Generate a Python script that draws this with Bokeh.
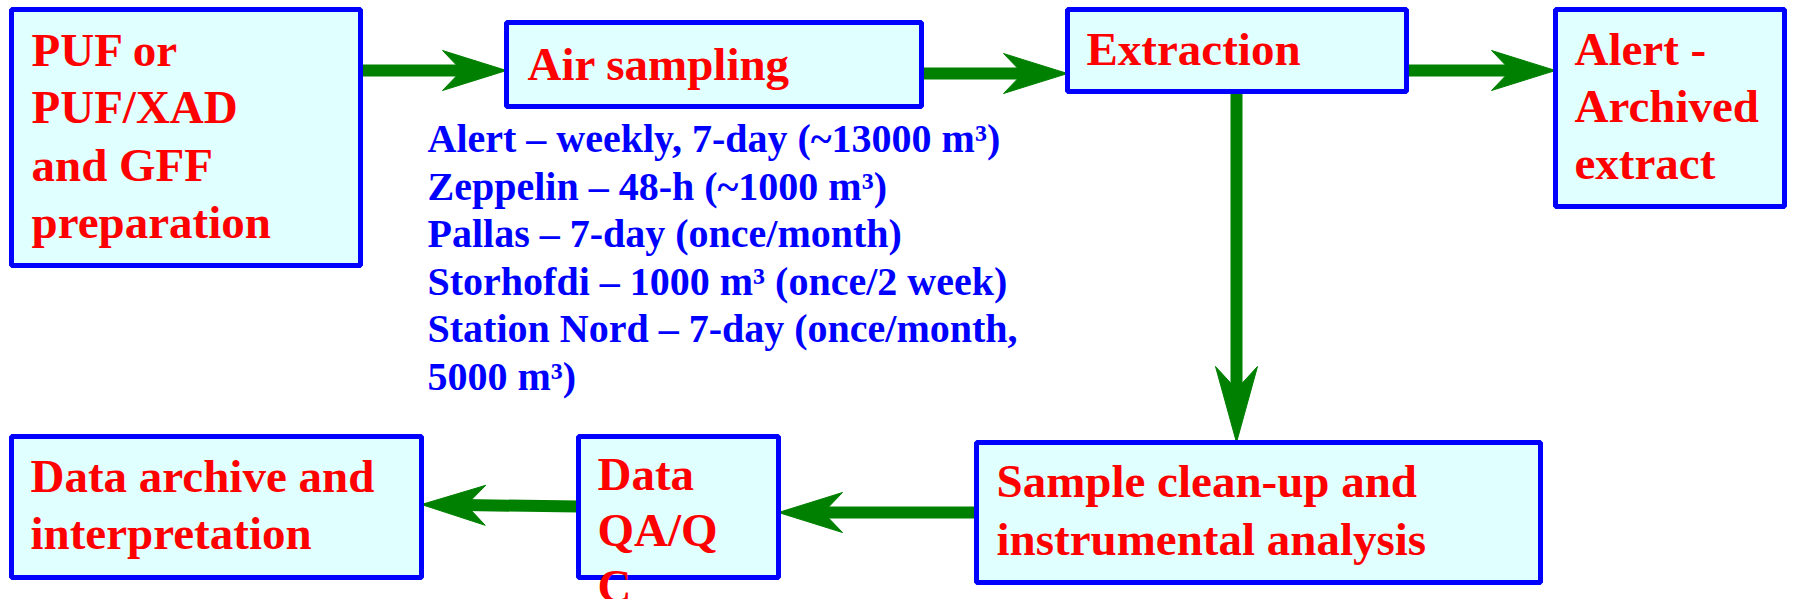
from bokeh.plotting import figure
from bokeh.models import Range1d
from bokeh.core.properties import value
from bokeh.embed import file_html
from bokeh.resources import INLINE
import math

# ---------------- content ----------------
box_labels = [
    ["PUF or", "PUF/XAD", "and GFF", "preparation"],
    ["Air sampling"],
    ["Extraction"],
    ["Alert -", "Archived", "extract"],
    ["Sample clean-up and", "instrumental analysis"],
    ["Data", "QA/Q", "C"],
    ["Data archive and", "interpretation"],
]
note_lines = [
    "Alert \u2013 weekly, 7-day (~13000 m\u00b3)",
    "Zeppelin \u2013 48-h (~1000 m\u00b3)",
    "Pallas \u2013 7-day (once/month)",
    "Storhofdi \u2013 1000 m\u00b3 (once/2 week)",
    "Station Nord \u2013 7-day (once/month,",
    "5000 m\u00b3)",
]
# flow: (from box, to box)
edges = [(0, 1), (1, 2), (2, 3), (2, 4), (4, 5), (5, 6)]

# ---------------- layout (window pixel coordinates) ----------------
box_left = [11, 506, 1067, 1555, 976, 578, 11]
box_right = [360, 921, 1406, 1784, 1540, 778, 421]
box_top = [9, 22, 9, 9, 442, 436, 436]
box_bottom = [265, 106, 91, 206, 582, 577, 577]

text_x = [31, 527, 1086, 1574, 996, 597, 30]
text_y0 = [64, 78, 63, 63, 495, 488, 490]
line_gap = [57.5, 0, 0, 57, 58, 56, 57]

arrow_start = [(360, 70), (921, 73), (1406, 70), (1236, 91), (976, 512), (578, 506)]
arrow_tip = [(506, 70), (1067, 73), (1555, 70), (1236, 442), (778, 512), (421, 504)]
head_len = [64, 64, 64, 76, 64, 64]
head_wid = [40, 40, 40, 42, 40, 40]

note_x = 427
note_y0 = 153
note_gap = 47.6

BASELINE_FIX = -15   # bokeh's alphabetic baseline lands lower than asked

GREEN = "#008000"
RED = "#FF0000"
BLUE = "#0000FF"
FILL = "#E0FFFF"
FONT = value("Liberation Serif")

W, H = 1787, 599
p = figure(width=W, height=H,
           x_range=Range1d(0, W), y_range=Range1d(H, 0),
           output_backend="svg", toolbar_location=None,
           x_axis_location=None, y_axis_location=None, min_border=0)
p.grid.visible = False
p.outline_line_color = None
p.background_fill_color = "white"
p.border_fill_color = "white"

# arrows
shaft_x0, shaft_y0, shaft_x1, shaft_y1 = [], [], [], []
heads_x, heads_y = [], []
for (sx, sy), (tx, ty), L, Wd in zip(arrow_start, arrow_tip, head_len, head_wid):
    dx, dy = tx - sx, ty - sy
    d = math.hypot(dx, dy)
    ux, uy = dx / d, dy / d
    nx, ny = -uy, ux
    bx, by = tx - L * ux, ty - L * uy
    notch = 0.3 * L
    mx, my = bx + notch * ux, by + notch * uy
    heads_x.append([tx, bx + Wd / 2 * nx, mx, bx - Wd / 2 * nx])
    heads_y.append([ty, by + Wd / 2 * ny, my, by - Wd / 2 * ny])
    shaft_x0.append(sx); shaft_y0.append(sy)
    shaft_x1.append(mx + 2 * ux); shaft_y1.append(my + 2 * uy)

p.segment(x0=shaft_x0, y0=shaft_y0, x1=shaft_x1, y1=shaft_y1,
          line_color=GREEN, line_width=12, line_cap="butt")
p.patches(xs=heads_x, ys=heads_y, fill_color=GREEN,
          line_color=GREEN, line_width=1)

# boxes
p.quad(left=box_left, right=box_right, top=box_top, bottom=box_bottom,
       fill_color=FILL, line_color=BLUE, line_width=5)

# box labels
tx, ty, tt = [], [], []
for i, lines in enumerate(box_labels):
    for j, s in enumerate(lines):
        tx.append(text_x[i]); ty.append(text_y0[i] + j * line_gap[i] + BASELINE_FIX); tt.append(s)
p.text(x=tx, y=ty, text=tt, text_font=FONT, text_font_style="bold",
       text_font_size="47px", text_color=RED, text_baseline="alphabetic",
       text_align="left")

# notes
p.text(x=[note_x] * len(note_lines),
       y=[note_y0 + k * note_gap + BASELINE_FIX for k in range(len(note_lines))],
       text=note_lines, text_font=FONT, text_font_style="bold",
       text_font_size="40px", text_color=BLUE, text_baseline="alphabetic",
       text_align="left")

open("out.html", "w").write(file_html(p, INLINE))
